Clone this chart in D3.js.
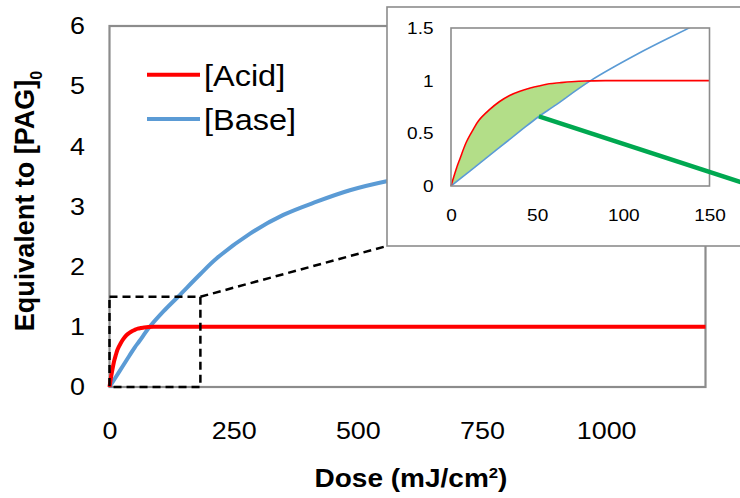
<!DOCTYPE html>
<html><head><meta charset="utf-8">
<script src="https://cdn.jsdelivr.net/npm/d3@7"></script>
<style>
body{margin:0;background:#fff;}
svg{display:block;font-family:"Liberation Sans",Arial,sans-serif;}
</style>
</head><body>
<svg id="c" width="740" height="498"></svg>
<script>
// ---- data ----
const acidDose  = [0, 3, 5, 9, 13, 16, 22, 28, 34, 40, 46, 51, 57, 63, 70, 78, 90, 150, 1200];
const acidValue = [0, 0.16, 0.25, 0.42, 0.54, 0.62, 0.72, 0.80, 0.86, 0.90, 0.93, 0.95, 0.97, 0.98, 0.99, 0.997, 1, 1, 1];
const baseDose  = [0, 20, 40, 51, 60, 81, 109, 138, 182, 216, 283, 350, 417, 484, 558, 600];
const baseValue = [0, 0.26, 0.52, 0.66, 0.76, 1.0, 1.26, 1.5, 1.87, 2.14, 2.55, 2.86, 3.08, 3.27, 3.42, 3.48];
const seriesNames = ["[Acid]", "[Base]"];
const mainXTicks = [0, 250, 500, 750, 1000];
const mainYTicks = [0, 1, 2, 3, 4, 5, 6];
const insetXTicks = [0, 50, 100, 150];
const insetYTicks = [0, 0.5, 1, 1.5];
const zoomBox = [183, 1.5];      // dose, value of the dashed zoom region
const crossDose = 81;            // where acid and base cross (end of shaded area)
const arrowFrom = [51, 0.66];    // inset coords
const arrowTo = [190, -0.08];    // inset coords (runs off the picture)

// ---- styles ----
const RED = "#ff0000", BLUE = "#5b9bd5", GRAY = "#8c8c8c", GREEN = "#00a850", FILL = "#b3de88";
const SX = 1.12; // horizontal text stretch of the original

const svg = d3.select("#c");
const acid = acidDose.map((d, i) => [d, acidValue[i]]);
const base = baseDose.map((d, i) => [d, baseValue[i]]);
const smooth = d3.curveCatmullRom.alpha(0.5);

// ---- main chart ----
const x = d3.scaleLinear().domain([0, 1200]).range([109.5, 705.5]);
const y = d3.scaleLinear().domain([0, 6]).range([387, 26]);

const gx = svg.append("g").attr("transform", `translate(0,${y(0)})`)
  .call(d3.axisBottom(x).tickValues(mainXTicks).tickSize(0).tickPadding(35).tickFormat(d3.format("d")));
gx.select(".domain").remove();
gx.selectAll("text").attr("font-size", 24).attr("font-family", "Liberation Sans, Arial, sans-serif")
  .attr("fill", "#000").attr("transform", `scale(${SX},1)`);

const gy = svg.append("g").attr("transform", `translate(${x(0)},0)`)
  .call(d3.axisLeft(y).tickValues(mainYTicks).tickSize(0).tickPadding(24.5).tickFormat(d3.format("d")));
gy.select(".domain").remove();
gy.selectAll("text").attr("font-size", 24).attr("font-family", "Liberation Sans, Arial, sans-serif")
  .attr("fill", "#000").attr("x", -24.5 / SX).attr("transform", `scale(${SX},1)`);

// frame
svg.append("rect").attr("x", x(0)).attr("y", y(6)).attr("width", x(1200) - x(0)).attr("height", y(0) - y(6))
  .attr("fill", "none").attr("stroke", GRAY).attr("stroke-width", 2.2);

const lineMain = d3.line().x(d => x(d[0])).y(d => y(d[1])).curve(smooth);
svg.append("path").attr("d", lineMain(base)).attr("fill", "none").attr("stroke", BLUE).attr("stroke-width", 4);
svg.append("path").attr("d", lineMain(acid)).attr("fill", "none").attr("stroke", RED).attr("stroke-width", 4);

// dashed zoom box
const dash = "8,5";
svg.append("path")
  .attr("d", `M${x(0)},${y(zoomBox[1])}H${x(zoomBox[0])}V${y(0)}H${x(0)}Z`)
  .attr("fill", "none").attr("stroke", "#000").attr("stroke-width", 2.5).attr("stroke-dasharray", dash);

// legend
const legend = svg.append("g");
[[RED, 74.7, 86], [BLUE, 119, 130]].forEach((s, i) => {
  legend.append("line").attr("x1", 147).attr("x2", 200).attr("y1", s[1]).attr("y2", s[1])
    .attr("stroke", s[0]).attr("stroke-width", 4);
  legend.append("text").attr("transform", `translate(204,${s[2]}) scale(${SX},1)`)
    .attr("font-size", 29).text(seriesNames[i]);
});

// axis titles
const xt = svg.append("text").attr("transform", `translate(411,487) scale(${SX},1)`)
  .attr("text-anchor", "middle").attr("font-size", 25).attr("font-weight", "bold");
xt.append("tspan").text("Dose (mJ/cm");
xt.append("tspan").attr("font-size", 15).attr("dy", -9).text("2");
xt.append("tspan").attr("dy", 9).text(")");

const yt = svg.append("text").attr("transform", "translate(34,201) rotate(-90)")
  .attr("text-anchor", "middle").attr("font-size", 27).attr("font-weight", "bold");
yt.append("tspan").text("Equivalent to [PAG]");
yt.append("tspan").attr("font-size", 16).attr("dy", 8).text("0");

// ---- inset ----
const inset = { left: 387, top: 7, bottom: 246 };
const ix = d3.scaleLinear().domain([0, 150]).range([451, 709.5]);
const iy = d3.scaleLinear().domain([0, 1.5]).range([186, 28]);

// connector from zoom box to inset
svg.append("line").attr("x1", x(zoomBox[0])).attr("y1", y(zoomBox[1]))
  .attr("x2", inset.left).attr("y2", inset.bottom)
  .attr("stroke", "#000").attr("stroke-width", 2.5).attr("stroke-dasharray", dash);

svg.append("rect").attr("x", inset.left).attr("y", inset.top).attr("width", 400)
  .attr("height", inset.bottom - inset.top).attr("fill", "#fff").attr("stroke", GRAY).attr("stroke-width", 1.6);

const igx = svg.append("g").attr("transform", `translate(0,${iy(0)})`)
  .call(d3.axisBottom(ix).tickValues(insetXTicks).tickSize(0).tickPadding(23));
igx.select(".domain").remove();
igx.selectAll("text").attr("font-size", 17).attr("font-family", "Liberation Sans, Arial, sans-serif")
  .attr("fill", "#000").attr("transform", `scale(${SX},1)`);

const igy = svg.append("g").attr("transform", `translate(${ix(0)},0)`)
  .call(d3.axisLeft(iy).tickValues(insetYTicks).tickSize(0).tickPadding(17.5).tickFormat(d => String(d)));
igy.select(".domain").remove();
igy.selectAll("text").attr("font-size", 17).attr("font-family", "Liberation Sans, Arial, sans-serif")
  .attr("fill", "#000").attr("x", -17.5 / SX).attr("transform", `scale(${SX},1)`);

svg.append("clipPath").attr("id", "ic").append("rect")
  .attr("x", ix(0) - 2).attr("y", iy(1.5)).attr("width", ix(150) - ix(0) + 4).attr("height", iy(0) - iy(1.5));

const ig = svg.append("g").attr("clip-path", "url(#ic)");
const lineIn = d3.line().x(d => ix(d[0])).y(d => iy(d[1])).curve(smooth);
const lineInLin = d3.line().x(d => ix(d[0])).y(d => iy(d[1]));

// shaded area between acid (above) and base (below) up to the crossing
const acidPart = acid.filter(d => d[0] < crossDose);
const basePart = base.filter(d => d[0] <= crossDose).slice().reverse();
const areaPath = lineIn(acidPart.concat([basePart[0]])) + lineInLin(basePart).replace(/^M/, "L") + "Z";
ig.append("path").attr("d", areaPath).attr("fill", FILL).attr("stroke", "#fff").attr("stroke-width", 1);

ig.append("path").attr("d", lineIn(base.filter(d => d[0] <= 182))).attr("fill", "none")
  .attr("stroke", BLUE).attr("stroke-width", 1.6);
ig.append("path").attr("d", lineIn(acid.filter(d => d[0] <= 150))).attr("fill", "none")
  .attr("stroke", RED).attr("stroke-width", 1.6);

svg.append("rect").attr("x", ix(0)).attr("y", iy(1.5)).attr("width", ix(150) - ix(0)).attr("height", iy(0) - iy(1.5))
  .attr("fill", "none").attr("stroke", GRAY).attr("stroke-width", 1.6);

// green pointer
svg.append("line").attr("x1", ix(arrowFrom[0])).attr("y1", iy(arrowFrom[1]))
  .attr("x2", ix(arrowTo[0])).attr("y2", iy(arrowTo[1]))
  .attr("stroke", GREEN).attr("stroke-width", 4.5);
</script>
</body></html>
